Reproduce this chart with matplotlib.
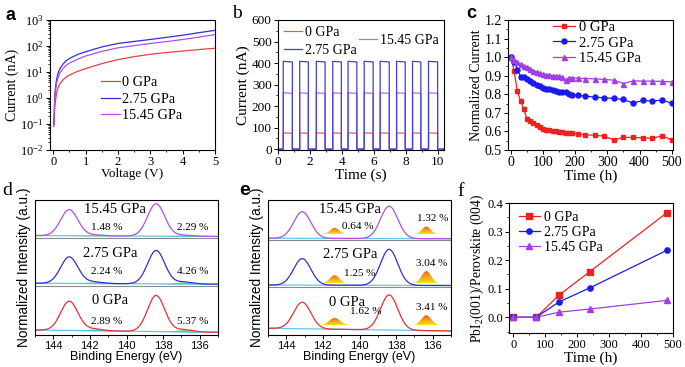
import numpy as np
import matplotlib
matplotlib.use("Agg")
import matplotlib.pyplot as plt
from matplotlib.ticker import MultipleLocator, LogLocator, NullFormatter
from matplotlib.patches import Polygon
from matplotlib.colors import LinearSegmentedColormap

plt.rcParams['font.family'] = ['Liberation Serif', 'DejaVu Serif']
plt.rcParams['mathtext.fontset'] = 'custom'
plt.rcParams['mathtext.rm'] = 'Liberation Serif'
plt.rcParams['mathtext.it'] = 'Liberation Serif:italic'
plt.rcParams['axes.linewidth'] = 0.8

W, H = 685, 367
SANS = ['Liberation Sans', 'DejaVu Sans']

pressures = ["0 GPa", "2.75 GPa", "15.45 GPa"]

# (a) I-V curves
volt = [0.02, 0.05, 0.1, 0.15, 0.2, 0.3, 0.4, 0.5, 0.75, 1.0, 1.5, 2.0, 2.5, 3.0, 3.5, 4.0, 4.5, 5.0]
iv_0 = [0.08, 0.5, 1.5, 2.5, 3.4, 5.0, 6.3, 7.6, 10.5, 13.5, 21, 30, 39, 48, 56, 64, 73, 82]
iv_275 = [0.1, 1.5, 5, 9, 13, 20, 27, 33, 47, 60, 92, 125, 150, 178, 215, 260, 325, 400]
iv_1545 = [0.09, 1.0, 3.5, 6, 9, 13.5, 18, 22, 31, 41, 62, 85, 103, 125, 148, 178, 220, 275]

# (b) switching: on / off times and current levels (start, end of each pulse)
t_on = [0.33, 1.36, 2.40, 3.43, 4.39, 5.40, 6.40, 7.43, 8.43, 9.43]
t_off = [0.90, 1.90, 2.95, 3.97, 4.94, 5.96, 6.97, 7.97, 8.95, 10.0]
lvl_0 = [75, 74]
lvl_275 = [408, 405]
lvl_1545 = [262, 259]

# (c) normalized current vs time
t_c = [0, 10, 20, 30, 40, 50, 60, 70, 80, 90, 100, 110, 120, 130, 140, 150, 160, 170, 180, 190,
       210, 230, 260, 290, 320, 350, 380, 410, 440, 470, 500]
nc_0 = [1.0, 0.926, 0.817, 0.765, 0.72, 0.667, 0.654, 0.643, 0.632, 0.622, 0.613, 0.610, 0.607,
        0.604, 0.601, 0.598, 0.596, 0.594, 0.592, 0.590, 0.586, 0.582, 0.579, 0.575, 0.554,
        0.568, 0.568, 0.565, 0.563, 0.577, 0.554]
nc_275 = [1.0, 0.976, 0.933, 0.894, 0.894, 0.885, 0.872, 0.862, 0.851, 0.842, 0.835, 0.829, 0.826,
          0.822, 0.817, 0.813, 0.812, 0.810, 0.800, 0.795, 0.794, 0.790, 0.785, 0.781, 0.778,
          0.772, 0.752, 0.767, 0.763, 0.769, 0.752]
nc_1545 = [1.0, 0.983, 0.974, 0.962, 0.950, 0.948, 0.937, 0.928, 0.921, 0.912, 0.908, 0.906, 0.905,
           0.901, 0.899, 0.896, 0.894, 0.876, 0.889, 0.889, 0.887, 0.885, 0.883, 0.880, 0.876,
           0.858, 0.872, 0.871, 0.871, 0.869, 0.867]

# (d)/(e) Pb 4f XPS fit components, bands bottom->top = 0, 2.75, 15.45 GPa
pb_pos = [143.13, 138.38]
pb_sigma = 0.47
d_base = [[0.11, 0.06], [1.15, 1.13], [2.21, 2.19]]
d_peak_h = [[0.65, 0.80], [0.59, 0.74], [0.58, 0.72]]
d_minor_pos = [141.8, 136.9]
d_minor_h = [[0.04, 0.05], [0.035, 0.045], [0.02, 0.025]]
d_pct = [["2.89 %", "5.37 %"], ["2.24 %", "4.26 %"], ["1.48 %", "2.29 %"]]
d_sep = [1.09, 2.16]

e_base = [[0.15, 0.09], [1.11, 1.10], [2.15, 2.14]]
e_peak_h = [[0.59, 0.78], [0.59, 0.80], [0.59, 0.72]]
e_sep = [1.07, 2.11]
e_tri_pos = [141.36, 136.35]
e_tri_sigma = [[0.3, 0.27], [0.26, 0.26], [0.25, 0.24]]
e_tri_bottom = [0.22, 1.15, 2.24]
e_tri_h = [[0.16, 0.22], [0.18, 0.27], [0.14, 0.17]]
e_pct = [["1.62 %", "3.41 %"], ["1.25 %", "3.04 %"], ["0.64 %", "1.32 %"]]

# (f) PbI2/perovskite ratio
t_f = [0, 72, 144, 240, 480]
r_0 = [0, 0, 0.078, 0.16, 0.365]
r_275 = [0, 0, 0.054, 0.103, 0.234]
r_1545 = [0, 0, 0.018, 0.029, 0.059]

RED, BLUE, PURP = '#ee2020', '#1a1aee', '#a23ee8'


def axes_px(fig, x0, y0, x1, y1):
    return fig.add_axes([x0 / W, 1 - y1 / H, (x1 - x0) / W, (y1 - y0) / H])


def fig_pt(x, y):
    return (x / W, 1 - y / H)


def style(ax, fs=9.5):
    ax.tick_params(which='both', direction='out', labelsize=fs, pad=1.5)
    ax.tick_params(which='major', length=3, width=0.7)
    ax.tick_params(which='minor', length=1.6, width=0.6)


def gauss(x, c, h, s):
    return h * np.exp(-0.5 * ((x - c) / s) ** 2)


fig = plt.figure(figsize=(W / 100, H / 100), dpi=100)

# ---------- a ----------
ax = axes_px(fig, 50, 20, 215, 150)
ax.plot(volt, iv_0, color='#e8404a', lw=0.9, label=pressures[0])
ax.plot(volt, iv_275, color='#3030d8', lw=0.9, label=pressures[1])
ax.plot(volt, iv_1545, color='#b050e8', lw=0.9, label=pressures[2])
ax.set_yscale('log')
ax.set_ylim(1e-2, 1e3)
ax.set_xlim(-0.1, 5.0)
ax.yaxis.set_major_locator(LogLocator(base=10, numticks=10))
ax.yaxis.set_minor_locator(LogLocator(base=10, subs=np.arange(2, 10), numticks=10))
ax.yaxis.set_minor_formatter(NullFormatter())
ax.xaxis.set_major_locator(MultipleLocator(1))
ax.xaxis.set_minor_locator(MultipleLocator(0.5))
style(ax, 9)
ax.set_xlabel('Voltage (V)', fontsize=9.5, labelpad=0)
ax.set_ylabel('Current (nA)', fontsize=10, labelpad=1)
ax.legend(loc='upper left', bbox_to_anchor=fig_pt(101, 76), bbox_transform=fig.transFigure,
          frameon=False, fontsize=10.3, handlelength=1.3, handletextpad=0.2, borderpad=0,
          borderaxespad=0, labelspacing=0.25)
fig.text(*fig_pt(5, 20), 'a', fontsize=13, family=SANS, fontweight='bold')

# ---------- b ----------
ax = axes_px(fig, 278, 20, 444, 150)


def pulses(lvl):
    xs, ys = [0], [0]
    for a, b in zip(t_on, t_off):
        xs += [a, a, b, b]
        ys += [0, lvl[0], lvl[1], 0]
    xs.append(10.4)
    ys.append(0)
    return xs, ys


l0, = ax.plot(*pulses(lvl_0), color='#e85858', lw=0.9)
l2, = ax.plot(*pulses(lvl_1545), color='#b070e8', lw=0.9)
l1, = ax.plot(*pulses(lvl_275), color='#4040d8', lw=0.9)
ax.set_xlim(0, 10.4)
ax.set_ylim(-4, 600)
ax.xaxis.set_major_locator(MultipleLocator(2))
ax.xaxis.set_minor_locator(MultipleLocator(1))
ax.yaxis.set_major_locator(MultipleLocator(100))
ax.yaxis.set_minor_locator(MultipleLocator(50))
style(ax)
ax.set_xlabel('Time (s)', fontsize=11, labelpad=0)
ax.set_ylabel('Current (nA)', fontsize=11, labelpad=1)
leg = ax.legend([l0, l1], pressures[:2], loc='upper left', bbox_to_anchor=fig_pt(284, 26),
                bbox_transform=fig.transFigure, frameon=False, fontsize=10, handlelength=1.3,
                handletextpad=0.2, borderpad=0, borderaxespad=0, labelspacing=0.35)
ax.add_artist(leg)
ax.legend([l2], pressures[2:], loc='upper left', bbox_to_anchor=fig_pt(359, 34),
          bbox_transform=fig.transFigure, frameon=False, fontsize=10, handlelength=1.3,
          handletextpad=0.2, borderpad=0, borderaxespad=0)
fig.text(*fig_pt(232, 18), 'b', fontsize=14, family='Liberation Serif')

# ---------- c ----------
ax = axes_px(fig, 508, 20, 673, 150)
ax.plot(t_c, nc_0, '-s', color=RED, ms=3.2, lw=0.9, label=pressures[0])
ax.plot(t_c, nc_275, '-o', color=BLUE, ms=3.6, lw=0.9, label=pressures[1])
ax.plot(t_c, nc_1545, '-^', color=PURP, ms=3.6, lw=0.9, label=pressures[2])
ax.set_xlim(-9, 504)
ax.set_ylim(0.5, 1.2)
ax.xaxis.set_major_locator(MultipleLocator(100))
ax.xaxis.set_minor_locator(MultipleLocator(50))
ax.yaxis.set_major_locator(MultipleLocator(0.1))
ax.yaxis.set_minor_locator(MultipleLocator(0.05))
style(ax, 10)
ax.set_xlabel('Time (h)', fontsize=11, labelpad=0)
ax.set_ylabel('Normalized Current', fontsize=10, labelpad=1)
ax.legend(loc='upper left', bbox_to_anchor=fig_pt(553, 21), bbox_transform=fig.transFigure,
          frameon=False, fontsize=10.5, handlelength=1.5, handletextpad=0.3, borderpad=0,
          borderaxespad=0, labelspacing=0.15)
fig.text(*fig_pt(466, 18), 'c', fontsize=13, family=SANS, fontweight='bold')


# ---------- d / e ----------
def xps_axes(x0, x1, letter, lx, base, peak_h, sep, colors):
    ax = axes_px(fig, x0, 200, x1, 335)
    xx = np.linspace(145, 135, 500)
    for i in range(3):
        bl = np.interp(xx, [135, 145], [base[i][1], base[i][0]])
        tot = bl.copy()
        for c, h in zip(pb_pos, peak_h[i]):
            tot += gauss(xx, c, h, pb_sigma)
        ax.plot(xx, bl, color='#40b8e8', lw=0.9, alpha=0.8)
        yield ax, xx, bl, tot, i
        ax.plot(xx, tot, color=colors[i], lw=0.9)
    for s in sep:
        ax.axhline(s, color='#8a8a8a', lw=0.8)
    ax.set_xlim(145, 135)
    ax.set_ylim(0, 3)
    ax.set_yticks([])
    ax.xaxis.set_major_locator(MultipleLocator(2))
    ax.xaxis.set_minor_locator(MultipleLocator(1))
    style(ax, 8)
    for t in ax.get_xticklabels():
        t.set_family(SANS)
    ax.set_xlabel('Binding Energy (eV)', fontsize=9, family=SANS, labelpad=0)
    ax.set_ylabel('Normalized Intensity (a.u.)', fontsize=9.8, family=SANS, labelpad=3)
    fig.text(*fig_pt(lx, 195), letter, fontsize=14,
             family=SANS if letter == 'e' else 'Liberation Serif',
             fontweight='bold' if letter == 'e' else 'normal')


spec_colors = ['#e83030', '#3030d8', '#b050e8']

# d
for ax, xx, bl, tot, i in xps_axes(35, 218, 'd', 2, d_base, d_peak_h, d_sep, spec_colors):
    comp = np.zeros_like(xx)
    for c, h in zip(d_minor_pos, d_minor_h[i]):
        comp += gauss(xx, c, h, 0.5)
    tot += comp
    ax.fill_between(xx, bl, bl + comp, color='#38d870', alpha=0.75, lw=0)
d_ax = fig.axes[-1]
d_lab_y = [0.76, 1.82, 2.78]
d_pct_y = [0.29, 1.40, 2.40]
for i in range(3):
    d_ax.text(140.9 if i < 2 else 140.63, d_lab_y[i], pressures[i], fontsize=10.5,
              ha='center', va='center')
    d_ax.text(141.1, d_pct_y[i], d_pct[i][0], fontsize=8, ha='center', va='center')
    d_ax.text(136.37, d_pct_y[i], d_pct[i][1], fontsize=8, ha='center', va='center')

# e
grad = LinearSegmentedColormap.from_list('tri', ['#f2e21a', '#f5a018', '#ee5a12'])
for ax, xx, bl, tot, i in xps_axes(268, 451, 'e', 239, e_base, e_peak_h, e_sep, spec_colors):
    for k, c in enumerate(e_tri_pos):
        s = e_tri_sigma[i][k]
        b0 = e_tri_bottom[i]
        h = e_tri_h[i][k]
        tx = np.linspace(c - 2.4 * s, c + 2.4 * s, 60)
        ty = b0 + gauss(tx, c, h, s)
        verts = np.column_stack([np.r_[tx, tx[::-1]], np.r_[ty, np.full_like(tx, b0)]])
        poly = Polygon(verts, closed=True, facecolor='none', edgecolor='none')
        ax.add_patch(poly)
        im = ax.imshow(np.linspace(0, 1, 50).reshape(-1, 1), cmap=grad, origin='lower',
                       extent=(c + 2.4 * s, c - 2.4 * s, b0, b0 + h), aspect='auto', zorder=2)
        im.set_clip_path(poly)
e_ax = fig.axes[-1]
e_ax.set_xlim(145, 135)
e_ax.set_ylim(0, 3)
e_lab = [(140.68, 0.73), (140.52, 1.78), (140.52, 2.78)]
e_pct_l = [(139.65, 0.52), (139.97, 1.36), (140.08, 2.41)]
e_pct_r = [(136.04, 0.62), (136.04, 1.60), (135.98, 2.58)]
for i in range(3):
    e_ax.text(*e_lab[i], pressures[i], fontsize=10.5, ha='center', va='center')
    e_ax.text(*e_pct_l[i], e_pct[i][0], fontsize=8, ha='center', va='center')
    e_ax.text(*e_pct_r[i], e_pct[i][1], fontsize=8, ha='center', va='center')

# ---------- f ----------
ax = axes_px(fig, 509, 203, 673, 333)
ax.plot(t_f, r_0, '-s', color=RED, ms=3.8, lw=0.9, label=pressures[0])
ax.plot(t_f, r_275, '-o', color=BLUE, ms=3.8, lw=0.9, label=pressures[1])
ax.plot(t_f, r_1545, '-^', color=PURP, ms=3.8, lw=0.9, label=pressures[2])
ax.set_xlim(-13, 500)
ax.set_ylim(-0.055, 0.4)
ax.xaxis.set_major_locator(MultipleLocator(100))
ax.xaxis.set_minor_locator(MultipleLocator(50))
ax.yaxis.set_major_locator(MultipleLocator(0.1))
ax.yaxis.set_minor_locator(MultipleLocator(0.05))
style(ax, 9)
ax.set_xlabel('Time (h)', fontsize=11, labelpad=0)
ax.set_ylabel('PbI$_2$(001)/Perovskite (004)', fontsize=9.8, labelpad=1)
ax.legend(loc='upper left', bbox_to_anchor=fig_pt(519, 211), bbox_transform=fig.transFigure,
          frameon=False, fontsize=10, handlelength=1.5, handletextpad=0.3, borderpad=0,
          borderaxespad=0, labelspacing=0.15)
fig.text(*fig_pt(457, 196), 'f', fontsize=14, family='Liberation Serif')

fig.savefig('out.png', dpi=100)
